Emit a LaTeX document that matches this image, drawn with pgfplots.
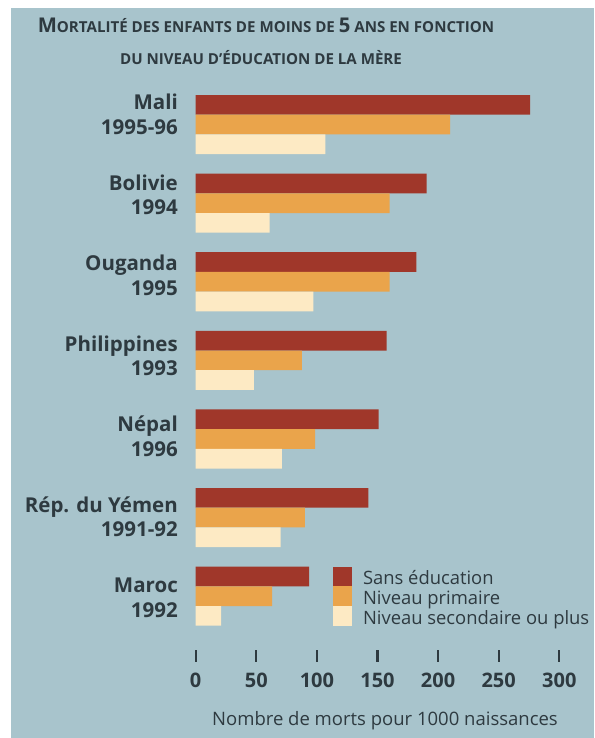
\documentclass[border=0pt]{standalone}
\usepackage{pgfplots}
\pgfplotsset{compat=1.18}
\usepackage{fontspec}
\setmainfont{Open Sans}
\definecolor{bgblue}{HTML}{A8C4CC}
\definecolor{sansedu}{HTML}{A0372A}
\definecolor{primaire}{HTML}{EAA44B}
\definecolor{secondaire}{HTML}{FDEAC4}
\definecolor{txt}{HTML}{2E3A40}
\newcommand\smc[1]{{\fontsize{15.1}{16}\selectfont #1}}
\begin{document}
\begin{tikzpicture}
\useasboundingbox (0,0) rectangle (594pt,-738pt);
\fill[white] (0,0) rectangle (594pt,-738pt);
\fill[bgblue] (11pt,-8pt) rectangle (594pt,-738pt);
\node[anchor=base, text=txt, inner sep=0pt] at (266pt,-33pt)
  {\bfseries\fontsize{20.3}{21}\selectfont M\smc{ORTALITÉ DES ENFANTS DE MOINS DE }5\smc{ ANS EN FONCTION}};
\node[anchor=base, text=txt, inner sep=0pt] at (261pt,-65pt)
  {\bfseries\smc{DU NIVEAU D’ÉDUCATION DE LA MÈRE}};
\node[anchor=base, text=txt, inner sep=0pt] at (385pt,-725pt)
  {\fontsize{18.5}{20}\selectfont Nombre de morts pour 1000 naissances};
\begin{axis}[
  scale only axis,
  width=363.6pt, height=560pt,
  at={(195.7pt,-650pt)}, anchor=south west,
  xmin=0, xmax=300, ymin=90, ymax=650,
  y dir=reverse,
  axis x line*=bottom, axis y line*=left,
  axis line style={draw=none},
  xtick={0,50,100,150,200,250,300},
  tick align=outside,
  major tick length=11.7pt,
  xtick style={line width=2.2pt, color=txt},
  ytick style={draw=none},
  ytick={109.8,190.3,270.8,351.3,431.8,512.3,592.8},
  yticklabels={Mali, Bolivie, Ouganda, Philippines, Népal, Rép. du Yémen, Maroc},
  extra y ticks={134.3,214.8,295.3,375.8,456.3,536.8,617.3},
  extra y tick labels={1995-96, 1994, 1995, 1993, 1996, 1991-92, 1992},
  extra y tick style={tick style={draw=none}},
  yticklabel style={anchor=base east, inner sep=0pt, xshift=-6pt, text=txt,
    font=\fontsize{20.5}{24}\selectfont\bfseries},
  xticklabel style={text=txt, font=\fontsize{20}{22}\selectfont\bfseries, yshift=-8pt},
  /pgf/number format/assume math mode=true,
  xbar, bar width=19.7pt, bar shift=0pt,
  legend style={at={(axis cs:113.3,566.6)}, anchor=north west, draw=none, fill=none,
    inner sep=0pt, outer sep=0pt,
    row sep=0pt, column sep=11pt,
    nodes={inner sep=0pt, outer sep=0pt, text height=18pt, text depth=1.7pt, text=txt, font=\fontsize{18.4}{19}\selectfont}},
  legend cell align=left,
  legend image code/.code={\fill[#1] (0pt,-9.85pt) rectangle (19pt,9.85pt);},
]
\addplot[fill=sansedu, draw=none] coordinates {
 (276,104.85) (190.5,183.45) (182,262.05) (157.5,340.65) (151,419.25) (142.5,497.85) (93.5,576.45)};
\addplot[fill=primaire, draw=none] coordinates {
 (210,124.55) (160,203.15) (160,281.75) (87.5,360.35) (98.5,438.95) (90,517.55) (63,596.15)};
\addplot[fill=secondaire, draw=none] coordinates {
 (107,144.25) (61,222.85) (97,301.45) (48,380.05) (71,458.65) (70,537.25) (21,615.85)};
\legend{Sans éducation, Niveau primaire, Niveau secondaire ou plus}
\end{axis}
\end{tikzpicture}
\end{document}
